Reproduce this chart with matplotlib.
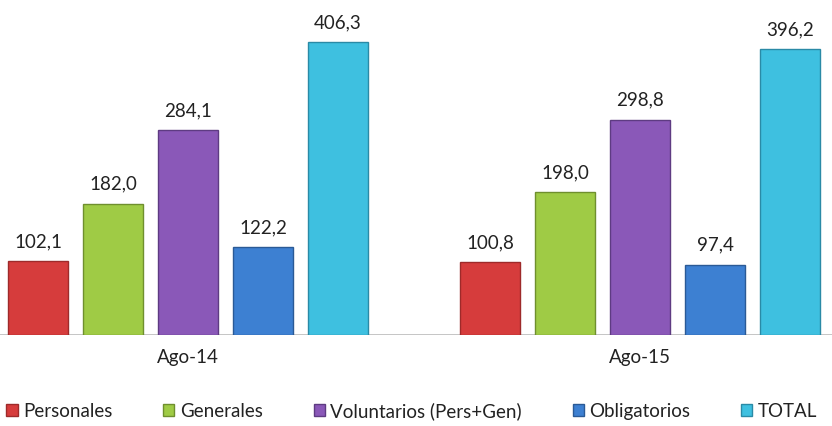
import matplotlib
matplotlib.use("Agg")
import matplotlib.pyplot as plt
from matplotlib.patches import Patch
import numpy as np

plt.rcParams['font.family'] = ['Lato', 'DejaVu Sans']

categories = ["Ago-14", "Ago-15"]
series = ["Personales", "Generales", "Voluntarios (Pers+Gen)", "Obligatorios", "TOTAL"]
personales = [102.1, 100.8]
generales = [182.0, 198.0]
voluntarios = [284.1, 298.8]
obligatorios = [122.2, 97.4]
total = [406.3, 396.2]
values = [personales, generales, voluntarios, obligatorios, total]

colors = ["#D63C3C", "#9FCB45", "#8A58B8", "#3D80D2", "#3EC0E0"]
edges = ["#9E2A2A", "#6F8F2E", "#5E3B82", "#2A5A96", "#2A8AA6"]

fig = plt.figure(figsize=(8.32, 4.26), dpi=100)
ax = fig.add_axes([0, 91/426, 1, 335/426])

x = np.arange(len(categories))
width = 60/452
step = 75/452
for i, (name, vals) in enumerate(zip(series, values)):
    pos = x + (i - 2) * step
    ax.bar(pos, vals, width=width, color=colors[i], edgecolor=edges[i], linewidth=1.0, label=name, zorder=3)
    for p, v in zip(pos, vals):
        ax.text(p, v + 27, f"{v:.1f}".replace('.', ','), ha='center', va='center', fontsize=13.5, color='#222222')

ax.set_xlim(-188/452, 1 + 192/452)
ax.set_ylim(0, 464.6)
ax.axhline(0, color='#BBBBBB', linewidth=1.2, zorder=2)
for s in ax.spines.values():
    s.set_visible(False)
ax.set_yticks([])
ax.set_xticks([])
for xi, c in zip(x, categories):
    ax.text(xi, -31, c, ha='center', va='center', fontsize=13.5, color='#222222', clip_on=False)

handles = [Patch(facecolor=colors[i], edgecolor=edges[i], label=series[i]) for i in range(5)]
fig.legend(handles=handles, loc='center', bbox_to_anchor=(0.495, 15/426), ncol=5, frameon=False,
           fontsize=13.5, handlelength=0.6, handleheight=0.6, handletextpad=0.3, columnspacing=2.7,
           labelcolor='#222222')

fig.savefig("out.png", dpi=100)
